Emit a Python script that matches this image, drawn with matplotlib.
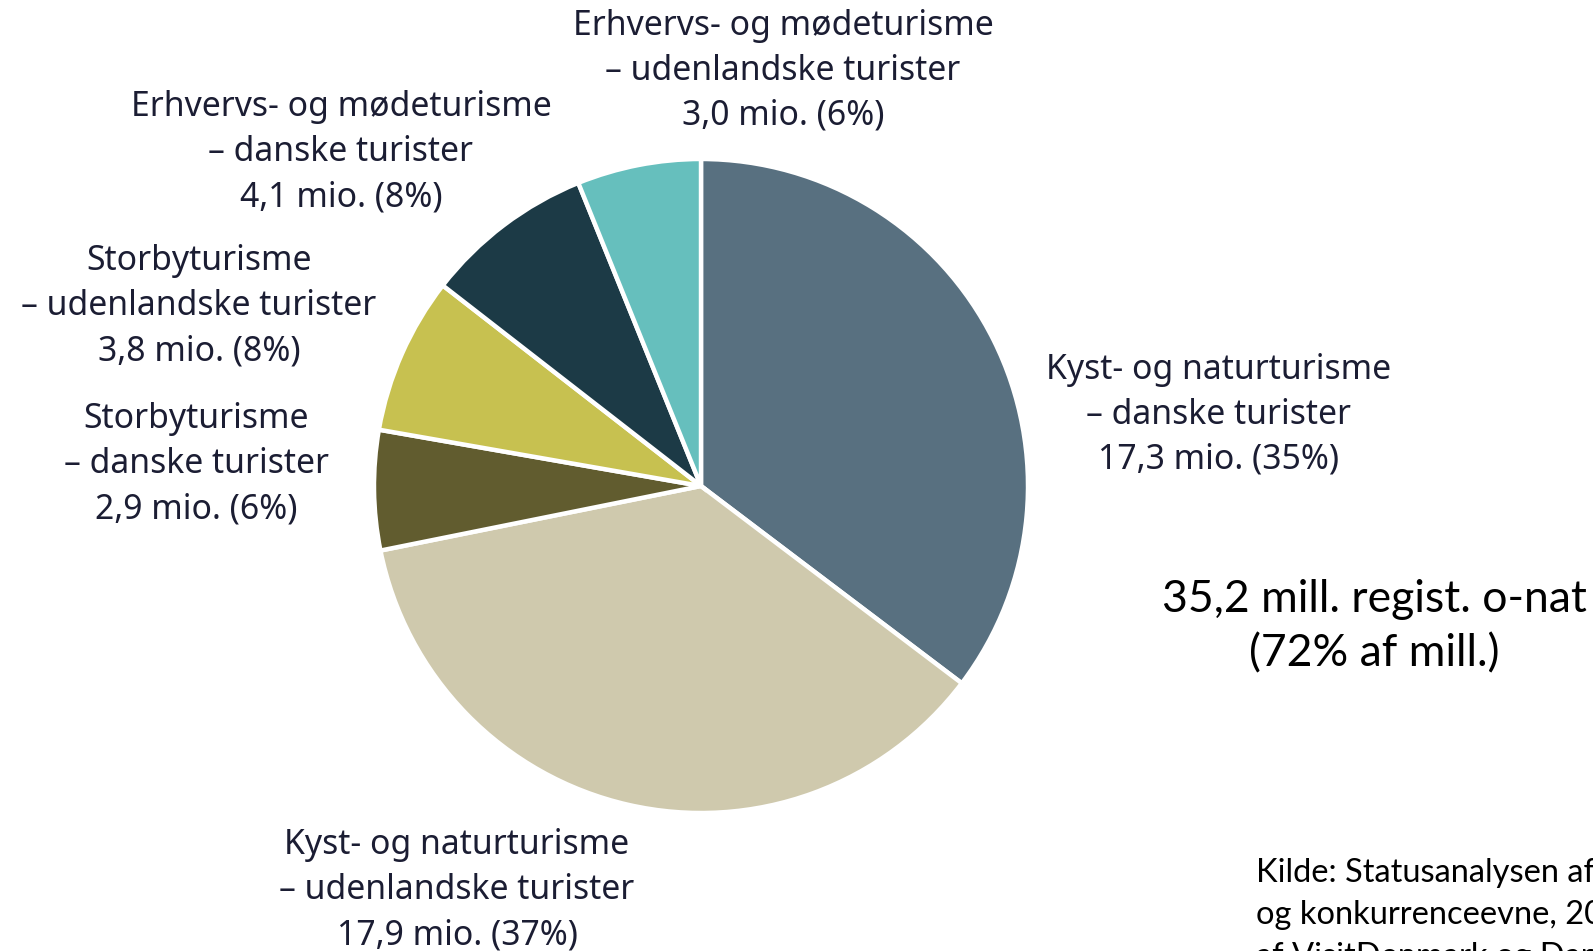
import matplotlib
matplotlib.use("Agg")
import matplotlib.pyplot as plt

# Overnatninger (mio.) fordelt paa forretningsomraader
categories = [
    "Kyst- og naturturisme\n– danske turister",
    "Kyst- og naturturisme\n– udenlandske turister",
    "Storbyturisme\n– danske turister",
    "Storbyturisme\n– udenlandske turister",
    "Erhvervs- og mødeturisme\n– danske turister",
    "Erhvervs- og mødeturisme\n– udenlandske turister",
]
values = [17.3, 17.9, 2.9, 3.8, 4.1, 3.0]
value_labels = ["17,3", "17,9", "2,9", "3,8", "4,1", "3,0"]
pct_labels = ["35%", "37%", "6%", "8%", "8%", "6%"]
colors = ["#587080", "#CFC9AD", "#615C2F", "#C7C150", "#1C3A46", "#66BFBD"]

total_text = ["35,2 mill. regist. o-nat", "(72% af mill.)"]
source_text = ["Kilde: Statusanalysen af dansk turismes udvikling",
               "og konkurrenceevne, 2016",
               "af VisitDenmark og Dansk Kyst- og Naturturisme"]

W, H = 1593, 951
fig = plt.figure(figsize=(W / 100, H / 100), dpi=100)
ax = fig.add_axes([0, 0, 1, 1])
ax.axis("off")

ax.pie(values, colors=colors, startangle=90, counterclock=False,
       center=(701, H - 486), radius=327,
       wedgeprops=dict(edgecolor="white", linewidth=3.2))
ax.set_xlim(0, W)
ax.set_ylim(0, H)
ax.set_aspect("equal")

# label anchor positions in pixels (x, y of first line from top)
label_pos = [(1219, 370), (457, 845), (196, 419), (199, 261), (341, 107), (783, 26)]
label_font = dict(family=["Noto Sans", "DejaVu Sans"], fontsize=24.3, color="#1b1d33")
for cat, v, p, (x, y) in zip(categories, value_labels, pct_labels, label_pos):
    lines = cat.split("\n") + [f"{v} mio. ({p})"]
    for i, line in enumerate(lines):
        ax.text(x, H - (y + i * 45), line, ha="center", va="center", **label_font)

total_font = dict(family=["Lato", "DejaVu Sans"], fontsize=32, color="black")
for i, line in enumerate(total_text):
    ax.text(1374, H - (600 + i * 54), line, ha="center", va="center", **total_font)

source_font = dict(family=["Lato", "DejaVu Sans"], fontsize=23.5, color="black")
for i, line in enumerate(source_text):
    ax.text(1256, H - (873 + i * 42), line, ha="left", va="center", **source_font)

fig.savefig("out.png", dpi=100)
